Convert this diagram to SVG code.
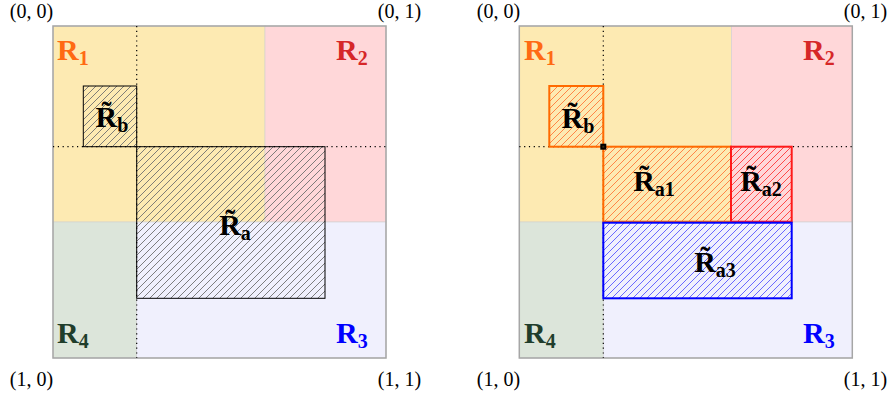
<svg xmlns="http://www.w3.org/2000/svg" width="892" height="396" viewBox="0 0 892 396">
<defs>
<style>
.coord{font-family:"Liberation Serif",serif;font-size:20px;fill:#000}
.lab{font-family:"Liberation Serif",serif;font-size:30px;font-weight:bold}
.sub{font-size:20px}
.reg{stroke:#cfcfcf;stroke-width:0.6}
.frame{fill:none;stroke:#a6a6a6;stroke-width:1.5}
.guide{stroke:#000;stroke-width:1.2;stroke-dasharray:1.2 3.6;fill:none}
</style>
<pattern id="hGray" patternUnits="userSpaceOnUse" width="7" height="7">
<path d="M-1,1 l2,-2 M0,7 l7,-7 M6,8 l2,-2" stroke="#707070" stroke-width="0.9"/>
</pattern>
<pattern id="hOrange" patternUnits="userSpaceOnUse" width="7" height="7">
<path d="M-1,1 l2,-2 M0,7 l7,-7 M6,8 l2,-2" stroke="#ff7a3a" stroke-width="0.9"/>
</pattern>
<pattern id="hRed" patternUnits="userSpaceOnUse" width="7" height="7">
<path d="M-1,1 l2,-2 M0,7 l7,-7 M6,8 l2,-2" stroke="#ff3a3a" stroke-width="0.9"/>
</pattern>
<pattern id="hBlue" patternUnits="userSpaceOnUse" width="7" height="7">
<path d="M-1,1 l2,-2 M0,7 l7,-7 M6,8 l2,-2" stroke="#5a5aff" stroke-width="0.9"/>
</pattern>
</defs>
<rect width="892" height="396" fill="#fff"/>

<!-- LEFT PANEL -->
<g id="left-panel">
<g id="L-R1"><rect class="reg" x="53" y="26" width="212" height="196" fill="#fdeab2"/></g>
<g id="L-R2"><rect class="reg" x="265" y="26" width="121" height="196" fill="#ffd7d9"/></g>
<g id="L-R4"><rect class="reg" x="53" y="222" width="83.7" height="136" fill="#dce5da"/></g>
<g id="L-R3"><rect class="reg" x="136.7" y="222" width="249.3" height="136" fill="#f0f0fd"/></g>
<rect class="frame" x="53" y="26" width="333" height="332"/>
</g>

<!-- RIGHT PANEL -->
<g id="right-panel">
<g id="R-R1"><rect class="reg" x="519.3" y="26" width="212" height="196" fill="#fdeab2"/></g>
<g id="R-R2"><rect class="reg" x="731.3" y="26" width="121" height="196" fill="#ffd7d9"/></g>
<g id="R-R4"><rect class="reg" x="519.3" y="222" width="84" height="136" fill="#dce5da"/></g>
<g id="R-R3"><rect class="reg" x="603.3" y="222" width="249" height="136" fill="#f0f0fd"/></g>
<rect class="frame" x="519.3" y="26" width="333" height="332"/>
</g>

<!-- guides (dotted lines) -->
<g id="connectors">
<line class="guide" x1="136.7" y1="26" x2="136.7" y2="358"/>
<line class="guide" x1="53" y1="146.7" x2="386" y2="146.7"/>
<line class="guide" x1="603.3" y1="26" x2="603.3" y2="358"/>
<line class="guide" x1="519.3" y1="146.7" x2="852.3" y2="146.7"/>
</g>

<g id="L-Ra"><rect x="136.7" y="146.7" width="188.3" height="151.6" fill="url(#hGray)" stroke="#000" stroke-width="1"/>
<text class="lab" x="235" y="235" text-anchor="middle" fill="#000">R&#x303;<tspan class="sub" dy="5">a</tspan></text></g>
<g id="L-Rb"><rect x="83.3" y="86" width="53.4" height="60.7" fill="url(#hGray)" stroke="#000" stroke-width="1"/>
<text class="lab" x="112" y="127" text-anchor="middle" fill="#000">R&#x303;<tspan class="sub" dy="5">b</tspan></text></g>

<g id="R-Rb"><rect x="549.3" y="86" width="54" height="60.7" fill="url(#hOrange)" stroke="#ff6a00" stroke-width="2"/>
<text class="lab" x="578" y="128" text-anchor="middle" fill="#000">R&#x303;<tspan class="sub" dy="5">b</tspan></text></g>
<g id="R-Ra1"><rect x="603.3" y="146.7" width="127.7" height="75" fill="url(#hOrange)" stroke="#ff6a00" stroke-width="2"/>
<text class="lab" x="654" y="191" text-anchor="middle" fill="#000">R&#x303;<tspan class="sub" dy="5">a1</tspan></text></g>
<g id="R-Ra2"><rect x="731" y="146.7" width="60.7" height="75" fill="url(#hRed)" stroke="#ff1a1a" stroke-width="2"/>
<text class="lab" x="761" y="191" text-anchor="middle" fill="#000">R&#x303;<tspan class="sub" dy="5">a2</tspan></text></g>
<g id="R-Ra3"><rect x="603.3" y="222.7" width="188.4" height="75.6" fill="url(#hBlue)" stroke="#0000ff" stroke-width="2"/>
<text class="lab" x="715" y="272" text-anchor="middle" fill="#000">R&#x303;<tspan class="sub" dy="5">a3</tspan></text></g>
<g id="corner-marker"><rect x="600.3" y="143.7" width="6" height="6" fill="#000"/><rect x="602.3" y="145.7" width="2" height="2" fill="#3a2a10"/></g>

<!-- region labels -->
<g id="labels-left">
<text class="lab" x="57" y="60" fill="#ff6a13">R<tspan class="sub" dy="5">1</tspan></text>
<text class="lab" x="336" y="60" fill="#d62728">R<tspan class="sub" dy="5">2</tspan></text>
<text class="lab" x="336" y="343" fill="#0000ff">R<tspan class="sub" dy="5">3</tspan></text>
<text class="lab" x="57" y="343" fill="#1f3d2b">R<tspan class="sub" dy="5">4</tspan></text>
</g>
<g id="labels-right">
<text class="lab" x="524" y="60" fill="#ff6a13">R<tspan class="sub" dy="5">1</tspan></text>
<text class="lab" x="803" y="60" fill="#d62728">R<tspan class="sub" dy="5">2</tspan></text>
<text class="lab" x="803" y="343" fill="#0000ff">R<tspan class="sub" dy="5">3</tspan></text>
<text class="lab" x="524" y="343" fill="#1f3d2b">R<tspan class="sub" dy="5">4</tspan></text>
</g>

<!-- corner coordinates -->
<g id="coords">
<text class="coord" x="31.5" y="18" text-anchor="middle">(0, 0)</text>
<text class="coord" x="399.5" y="18" text-anchor="middle">(0, 1)</text>
<text class="coord" x="31.5" y="386" text-anchor="middle">(1, 0)</text>
<text class="coord" x="399.5" y="386" text-anchor="middle">(1, 1)</text>
<text class="coord" x="498.5" y="18" text-anchor="middle">(0, 0)</text>
<text class="coord" x="865.5" y="18" text-anchor="middle">(0, 1)</text>
<text class="coord" x="498.5" y="386" text-anchor="middle">(1, 0)</text>
<text class="coord" x="865.5" y="386" text-anchor="middle">(1, 1)</text>
</g>
</svg>
